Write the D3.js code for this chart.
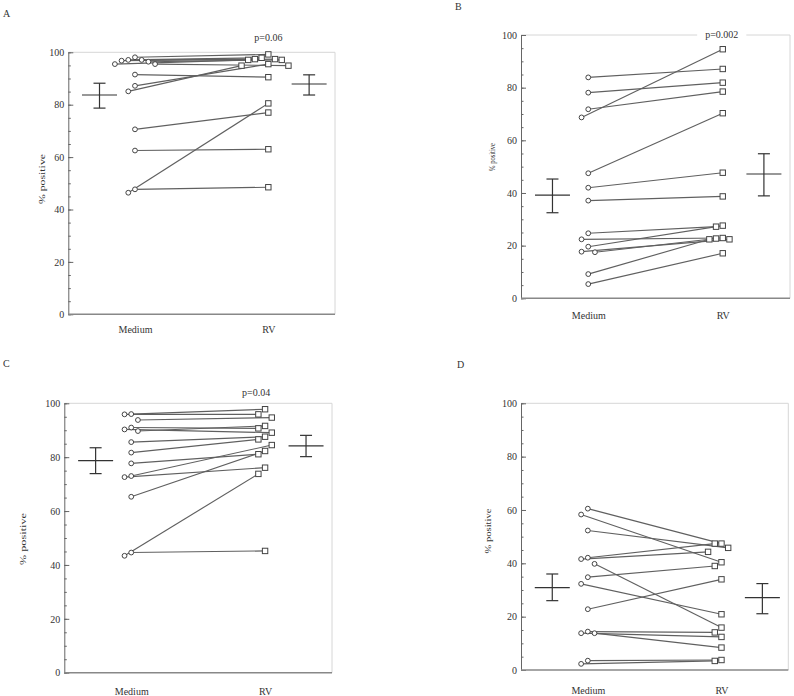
<!DOCTYPE html>
<html lang="en">
<head>
<meta charset="UTF-8">
<title>% positive: Medium vs RV</title>
<script src="https://d3js.org/d3.v7.min.js"></script>
<style>
    body { margin: 0; background: #fff; }
    svg text { font-family: "Liberation Serif", "Times New Roman", serif; fill: #333; }
</style>
</head>
<body>
<script>
// categories and ticks
const categories = ["Medium", "RV"];
const yTicks = [0, 20, 40, 60, 80, 100];
const yMinorTicks = d3.range(0, 101, 5);

// panel A
const mediumA = [98.1, 97.1, 96.8, 96.4, 97.1, 95.5, 95.5, 91.5, 87.2, 85.1, 70.6, 62.5, 47.7, 46.4];
const rvA     = [99.2, 97.9, 97.4, 97.1, 97.4, 97.1, 94.9, 90.5, 95.5, 94.9, 77.0, 63.0, 48.5, 80.5];
const meanA = [83.7, 87.9], lowA = [78.7, 83.7], highA = [88.2, 91.4];

// panel B
const mediumB = [83.9, 78.1, 71.8, 68.7, 47.5, 42.0, 37.1, 24.7, 22.4, 19.6, 17.7, 17.5, 9.2, 5.4];
const rvB     = [87.1, 81.9, 78.5, 94.6, 70.3, 47.7, 38.7, 27.2, 22.9, 27.6, 22.4, 22.7, 22.4, 17.1];
const meanB = [39.2, 47.2], lowB = [32.5, 38.9], highB = [45.3, 54.9];

// panel C
const mediumC = [95.9, 96.0, 93.8, 90.3, 89.7, 91.0, 85.6, 81.7, 77.7, 72.6, 73.0, 65.3, 44.6, 43.4];
const rvC     = [95.9, 97.8, 94.7, 89.1, 91.6, 90.7, 87.6, 86.6, 81.1, 76.1, 84.5, 82.3, 45.2, 73.8];
const meanC = [78.7, 84.2], lowC = [73.9, 80.2], highC = [83.5, 88.1];

// panel D
const mediumD = [60.5, 58.3, 52.3, 41.6, 42.1, 39.8, 34.8, 32.3, 22.8, 14.4, 13.8, 13.8, 3.5, 2.3];
const rvD     = [47.4, 40.4, 45.8, 44.3, 47.4, 15.9, 39.0, 20.9, 34.0, 14.1, 12.4, 8.4, 3.75, 3.4];
const meanD = [30.9, 27.1], lowD = [26.0, 21.1], highD = [36.0, 32.4];

const svg = d3.select("body").append("svg")
    .attr("width", 794)
    .attr("height", 696);

// spread overlapping points sideways (slots of a few px)
function dodge(values, y, gap, minDist) {
    const order = values.map((v, i) => i).sort((a, b) => values[b] - values[a]);
    const cand = [0, -1, 1, -2, 2, -3, 3, -4, 4];
    const placed = [];
    const out = new Array(values.length);
    order.forEach(i => {
        const yi = y(values[i]);
        const s = cand.find(c => !placed.some(p => p.s === c && Math.abs(p.y - yi) < minDist));
        placed.push({ s: s, y: yi });
        out[i] = s * gap;
    });
    return out;
}

function drawPanel(p) {
    const g = svg.append("g");
    const w = p.x1 - p.x0;
    const x = d3.scalePoint().domain(categories).range([p.x0, p.x1]).padding(0.5);
    const y = d3.scaleLinear().domain([0, 100]).range([p.yBot, p.yTop]);

    // light frame (top + right)
    g.append("line")
        .attr("x1", p.x0).attr("x2", p.x1)
        .attr("y1", p.yTop).attr("y2", p.yTop)
        .attr("stroke", "#d6d6d6");
    g.append("line")
        .attr("x1", p.x1).attr("x2", p.x1)
        .attr("y1", p.yTop).attr("y2", p.yBot)
        .attr("stroke", "#d6d6d6");

    // left axis: minor then major ticks, pointing inwards
    g.append("g")
        .attr("transform", `translate(${p.x0},0)`)
        .call(d3.axisLeft(y).tickValues(yMinorTicks).tickSizeInner(-2.5).tickSizeOuter(0).tickFormat(""))
        .call(a => a.select(".domain").attr("stroke", "#666"))
        .call(a => a.selectAll(".tick line").attr("stroke", "#666"));
    g.append("g")
        .attr("transform", `translate(${p.x0},0)`)
        .call(d3.axisLeft(y).tickValues(yTicks).tickSizeInner(-5).tickSizeOuter(0).tickPadding(4))
        .call(a => a.select(".domain").remove())
        .call(a => a.selectAll(".tick line").attr("stroke", "#666"))
        .call(a => a.selectAll("text")
            .style("font-family", '"Liberation Serif", serif')
            .style("font-size", "10px")
            .attr("fill", "#2a2a2a"));

    // bottom axis
    g.append("g")
        .attr("transform", `translate(0,${p.yBot})`)
        .call(d3.axisBottom(x).tickSize(0).tickSizeOuter(0).tickPadding(p.catPad))
        .call(a => a.select(".domain").attr("stroke", "#888").attr("stroke-width", 1.6)
            .attr("d", `M${p.x0},0H${p.x1}`))
        .call(a => a.selectAll("text")
            .style("font-family", '"Liberation Serif", serif')
            .style("font-size", "10px")
            .attr("fill", "#2a2a2a"));

    // y label
    g.append("text")
        .attr("transform", `translate(${p.labX},${p.labY}) rotate(-90)`)
        .attr("text-anchor", "middle")
        .attr("dy", "0.35em")
        .attr("textLength", p.labLen)
        .attr("lengthAdjust", "spacingAndGlyphs")
        .style("font-size", "8px")
        .text("% positive");

    // panel letter
    g.append("text")
        .attr("x", p.letterX).attr("y", p.letterY)
        .style("font-size", "10px")
        .attr("fill", "#222")
        .text(p.letter);

    // p value, on a white patch so it can sit on the frame line
    if (p.pText) {
        const pt = g.append("text")
            .attr("x", x("RV") + p.pdx).attr("y", p.yTop + p.pdy)
            .attr("text-anchor", "middle")
            .style("font-size", "10px")
            .text(p.pText);
        const bb = pt.node().getBBox();
        g.insert("rect", () => pt.node())
            .attr("x", bb.x - 8).attr("y", bb.y)
            .attr("width", bb.width + 16).attr("height", bb.height)
            .attr("fill", "#fff");
    }

    // paired lines + markers
    const dm = dodge(p.medium, y, 6.7, 8.5);
    const dr = dodge(p.rv, y, 6.7, 8.5);
    const xm = x("Medium"), xr = x("RV");
    g.append("g").selectAll("line")
        .data(p.medium)
        .join("line")
        .attr("x1", (d, i) => xm + dm[i]).attr("y1", d => y(d))
        .attr("x2", (d, i) => xr + dr[i]).attr("y2", (d, i) => y(p.rv[i]))
        .attr("stroke", "#606060").attr("stroke-width", 1.15);
    g.append("g").selectAll("circle")
        .data(p.medium)
        .join("circle")
        .attr("cx", (d, i) => xm + dm[i]).attr("cy", d => y(d))
        .attr("r", 2.4)
        .attr("fill", "#fff").attr("stroke", "#444").attr("stroke-width", 1);
    g.append("g").selectAll("rect")
        .data(p.rv)
        .join("rect")
        .attr("x", (d, i) => xr + dr[i] - 2.7).attr("y", d => y(d) - 2.7)
        .attr("width", 5.4).attr("height", 5.4)
        .attr("fill", "#fff").attr("stroke", "#444").attr("stroke-width", 1);

    // mean +/- error bars beside the columns
    const xe = [xm - 0.133 * w, xr + 0.153 * w];
    p.mean.forEach((m, k) => {
        const eg = g.append("g").attr("stroke", "#333").attr("stroke-width", 1.2);
        eg.append("line")
            .attr("x1", xe[k] - 17.5).attr("x2", xe[k] + 17.5)
            .attr("y1", y(m)).attr("y2", y(m));
        eg.append("line")
            .attr("x1", xe[k]).attr("x2", xe[k])
            .attr("y1", y(p.low[k])).attr("y2", y(p.high[k]));
        [p.low[k], p.high[k]].forEach(v => {
            eg.append("line")
                .attr("x1", xe[k] - 6).attr("x2", xe[k] + 6)
                .attr("y1", y(v)).attr("y2", y(v));
        });
    });
}

drawPanel({
    letter: "A", letterX: 3, letterY: 17,
    x0: 68.3, x1: 335, yTop: 52.3, yBot: 314.3, catPad: 12,
    labX: 41.7, labY: 179, labLen: 50,
    pText: "p=0.06", pdx: 0, pdy: -11,
    medium: mediumA, rv: rvA, mean: meanA, low: lowA, high: highA
});
drawPanel({
    letter: "B", letterX: 455, letterY: 10,
    x0: 521, x1: 790, yTop: 35, yBot: 298.3, catPad: 14,
    labX: 491.7, labY: 157, labLen: 28,
    pText: "p=0.002", pdx: -1, pdy: 3,
    medium: mediumB, rv: rvB, mean: meanB, low: lowB, high: highB
});
drawPanel({
    letter: "C", letterX: 3, letterY: 367,
    x0: 64.3, x1: 332, yTop: 403.3, yBot: 672.7, catPad: 15,
    labX: 23.3, labY: 539, labLen: 52,
    pText: "p=0.04", pdx: -9, pdy: -7,
    medium: mediumC, rv: rvC, mean: meanC, low: lowC, high: highC
});
drawPanel({
    letter: "D", letterX: 457, letterY: 368,
    x0: 521, x1: 788.3, yTop: 403.3, yBot: 670, catPad: 17,
    labX: 488.3, labY: 531, labLen: 45,
    pText: null,
    medium: mediumD, rv: rvD, mean: meanD, low: lowD, high: highD
});
</script>
</body>
</html>
